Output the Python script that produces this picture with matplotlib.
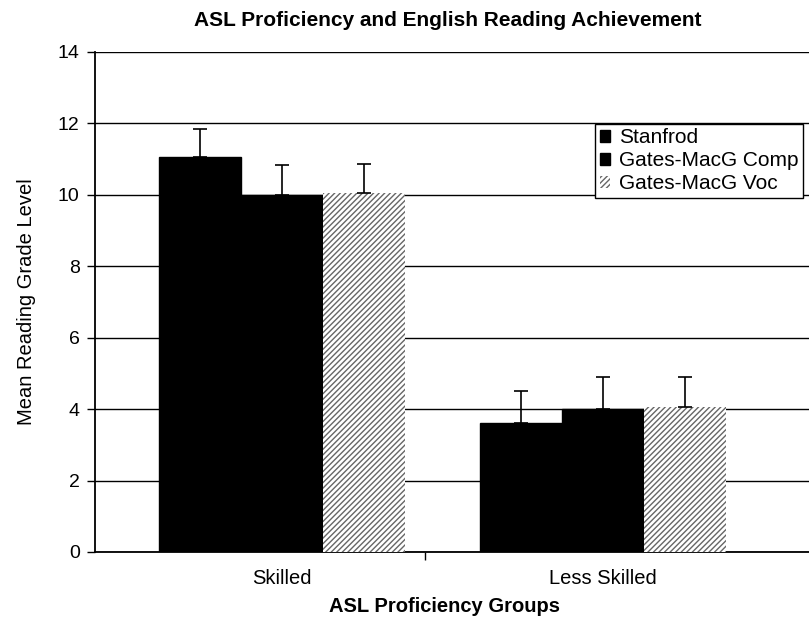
import numpy as np
import matplotlib.pyplot as plt

plt.rcParams['font.family'] = ['Liberation Sans', 'DejaVu Sans']

groups = ['Skilled', 'Less Skilled']
series = ['Stanfrod', 'Gates-MacG Comp', 'Gates-MacG Voc']
stanford = [11.05, 3.6]
gates_comp = [10.0, 4.0]
gates_voc = [10.05, 4.05]
stanford_err = [0.8, 0.9]
gates_comp_err = [0.85, 0.9]
gates_voc_err = [0.8, 0.85]

values = [stanford, gates_comp, gates_voc]
errs = [stanford_err, gates_comp_err, gates_voc_err]

fig = plt.figure(figsize=(8.09, 6.25), dpi=100)
ax = fig.add_axes([95/809, 73/625, 1 - 95/809, 500/625])

x = np.arange(len(groups))
w = 0.255
offsets = [-w, 0, w]
for i in range(3):
    if i < 2:
        ax.bar(x + offsets[i], values[i], w, color='black', edgecolor='black',
               label=series[i], zorder=3)
    else:
        ax.bar(x + offsets[i], values[i], w, color='white', edgecolor='#666666',
               hatch='//////', linewidth=0, label=series[i], zorder=3)
    ax.errorbar(x + offsets[i], values[i],
                yerr=[np.zeros(len(groups)), errs[i]],
                fmt='none', ecolor='black', elinewidth=1.2, capsize=5,
                capthick=1.2, zorder=4)

ax.set_ylim(0, 14)
ax.set_yticks(np.arange(0, 15, 2))
ax.set_xlim(-0.583, 1.642)
ax.set_xticks([0.445])
ax.set_xticklabels([''])
ax.tick_params(axis='x', length=6, direction='out', width=1)
ax.tick_params(axis='y', length=6, direction='out', labelsize=14, width=1, pad=5)
for g, xi in zip(groups, x):
    ax.text(xi, -0.75, g, ha='center', va='center', fontsize=14.5)

ax.grid(axis='y', color='black', linewidth=1, zorder=0)
ax.spines['right'].set_visible(False)
ax.spines['top'].set_visible(False)
ax.spines['left'].set_linewidth(1.3)
ax.spines['bottom'].set_linewidth(1.3)

fig.text(27/809, 1 - 302/625, 'Mean Reading Grade Level', rotation=90,
         ha='center', va='center', fontsize=14.5)
fig.text(445/809, 1 - 606/625, 'ASL Proficiency Groups', ha='center', va='center',
         fontsize=14.5, fontweight='bold')
fig.text(448/809, 1 - 20/625, 'ASL Proficiency and English Reading Achievement',
         ha='center', va='center', fontsize=15, fontweight='bold')

leg = ax.legend(loc='upper right', bbox_to_anchor=(0.9916, 0.856), fontsize=15,
                frameon=True, fancybox=False, edgecolor='black', framealpha=1,
                handlelength=0.5, handleheight=0.5, handletextpad=0.45,
                borderpad=0.2, labelspacing=0.2, borderaxespad=0)
leg.get_frame().set_linewidth(1)

fig.savefig('out.png', dpi=100)
